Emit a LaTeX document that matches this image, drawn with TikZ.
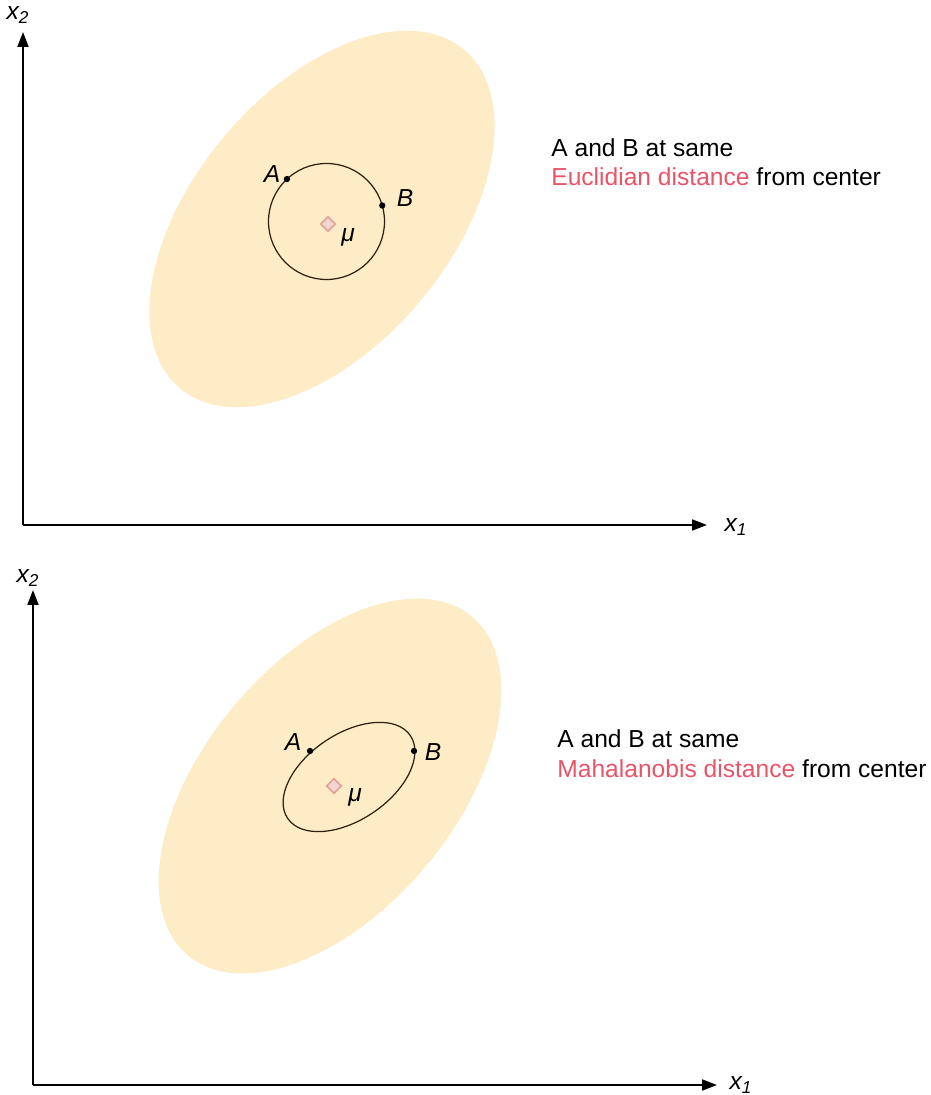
\documentclass[tikz,border=0pt]{standalone}
\usepackage{fontspec}
\setmainfont{Liberation Sans}
\usetikzlibrary{arrows.meta,positioning,shapes.geometric,calc}

\definecolor{blob}{RGB}{253,236,198}
\definecolor{distred}{RGB}{232,84,104}
\definecolor{mucol}{RGB}{226,160,150}

\begin{document}
\begin{tikzpicture}[
  axis/.style={line width=1.1pt,-{Triangle[length=0.3cm,width=0.22cm]}},
  cloud/.style={fill=blob,draw=none},
  contour/.style={draw=black!75!brown,line width=0.7pt},
  pt/.style={circle,fill=black,inner sep=0pt,minimum size=3.6pt},
  mean/.style={diamond,draw=mucol,fill=mucol!45,line width=0.9pt,
               inner sep=0pt,minimum size=0.3cm},
  lab/.style={font=\fontsize{14}{16}\selectfont\itshape},
  note/.style={font=\fontsize{14}{16}\selectfont,anchor=base west,inner sep=0pt},
]
  \useasboundingbox (0,0) rectangle (18.62,21.9);

  % ---------- Top panel: Euclidian ----------
  \coordinate (o1) at (0.46,11.40);
  \coordinate (y1) at (0.46,21.26);
  \coordinate (x1) at (14.14,11.40);
  \fill[cloud,rotate around={50:(6.44,17.52)}] (6.44,17.52) ellipse (4.42 and 2.56);

  \node[mean] (mu1) at (6.56,17.42) {};
  \node[lab] at (6.96,17.16) {μ};

  % circle of equal Euclidian distance
  \coordinate (c1) at (6.53,17.47);
  \draw[contour] (c1) circle (1.16);
  \node[pt] (a1) at ($(c1)+(133:1.16)$) {};
  \node[pt] (b1) at ($(c1)+(16:1.16)$) {};
  \node[lab] at (5.44,18.42) {A};
  \node[lab] at (8.10,17.94) {B};

  % axes
  \draw[axis] (o1) -- (y1);
  \draw[axis] (o1) -- (x1);
  \node[lab] at (0.36,21.60) {x\textsubscript{2}};
  \node[lab] at (14.72,11.36) {x\textsubscript{1}};

  % text
  \node[note] (t1) at (11.02,18.76) {A and B at same};
  \node[note] (t2) at (11.02,18.18) {\textcolor{distred}{Euclidian distance} from center};

  % ---------- Bottom panel: Mahalanobis ----------
  \coordinate (o2) at (0.66,0.20);
  \coordinate (y2) at (0.66,10.10);
  \coordinate (x2) at (14.34,0.20);
  \fill[cloud,rotate around={50:(6.60,6.18)}] (6.60,6.18) ellipse (4.42 and 2.50);

  \node[mean] (mu2) at (6.68,6.18) {};
  \node[lab] at (7.10,5.96) {μ};

  % ellipse of equal Mahalanobis distance
  \coordinate (c2) at (6.98,6.36);
  \draw[contour,rotate around={34:(c2)}] (c2) ellipse (1.48 and 0.86);
  \node[pt] (a2) at (6.20,6.88) {};
  \node[pt] (b2) at (8.28,6.88) {};
  \node[lab] at (5.86,7.06) {A};
  \node[lab] at (8.66,6.86) {B};

  % axes
  \draw[axis] (o2) -- (y2);
  \draw[axis] (o2) -- (x2);
  \node[lab] at (0.56,10.34) {x\textsubscript{2}};
  \node[lab] at (14.82,0.20) {x\textsubscript{1}};

  % text
  \node[note] (t3) at (11.14,6.94) {A and B at same};
  \node[note] (t4) at (11.14,6.34) {\textcolor{distred}{Mahalanobis distance} from center};
\end{tikzpicture}
\end{document}
